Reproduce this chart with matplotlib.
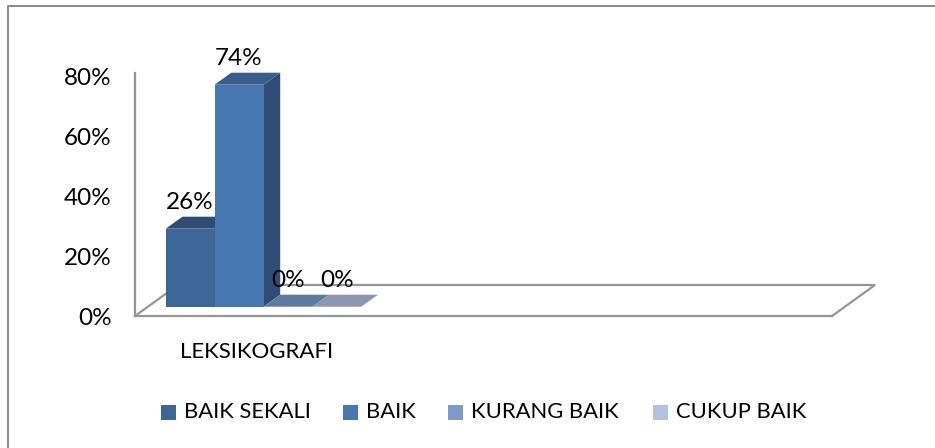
import matplotlib
matplotlib.use("Agg")
import matplotlib.pyplot as plt
from matplotlib.lines import Line2D
from matplotlib.patches import Rectangle

# Data
kategori = ["LEKSIKOGRAFI"]
seri = ["BAIK SEKALI", "BAIK", "KURANG BAIK", "CUKUP BAIK"]
nilai = [26, 74, 0, 0]
y_ticks = [0, 20, 40, 60, 80]

warna_depan = ["#3C6695", "#4777B0", "#7F9BC9", "#B3C2DE"]
warna_atas = ["#2E4C74", "#3A5E8C", "#5F7A9F", "#8A97AE"]
warna_sisi = ["#2E4C74", "#2E4C74", "#5F7A9F", "#8A97AE"]
abu = "#969696"

W, H = 935, 448
plt.rcParams["font.family"] = ["Lato", "DejaVu Sans"]
fig = plt.figure(figsize=(W / 100, H / 100), dpi=100)

# Bingkai luar: hanya sisi atas dan kiri yang terlihat
fig.add_artist(Line2D([7.5 / W, 7.5 / W, 1], [0, 1 - 6.5 / H, 1 - 6.5 / H],
                      transform=fig.transFigure, color="#8c8c8c", linewidth=1.5))

# 1 satuan x = lebar satu batang, 1 satuan y = 1 persen
px_x = 48.9
px_y = 3.0
kiri, kanan, bawah, atas = 135, 832, 316, 73
ax = fig.add_axes([kiri / W, 1 - bawah / H, (kanan - kiri) / W, (bawah - atas) / H])
ax.set_xlim(0, (kanan - kiri) / px_x)
ax.set_ylim(0, (bawah - atas) / px_y)
ax.patch.set_visible(False)

for s in ["top", "right"]:
    ax.spines[s].set_visible(False)
for s in ["left", "bottom"]:
    ax.spines[s].set_color(abu)
    ax.spines[s].set_linewidth(1.6)

ax.set_yticks(y_ticks)
ax.set_yticklabels([f"{v}%" for v in y_ticks], fontsize=17.5)
ax.tick_params(axis="y", length=0, pad=17)
ax.set_xticks([])

# Lantai 3D
lebar_x = (kanan - kiri) / px_x
lantai_dx = 43 / px_x
lantai_dy = 31 / px_y
ax.plot([0, lantai_dx, lebar_x + lantai_dx, lebar_x],
        [0, lantai_dy, lantai_dy, 0],
        color=abu, linewidth=1.6, clip_on=False, zorder=1, solid_joinstyle="miter")

# Batang 3D
x0 = 30.7 / px_x
y0 = 9.3 / px_y
dx = 16.7 / px_x
dy = 12 / px_y
for i in range(len(nilai)):
    xa = x0 + i
    xb = xa + 1
    top = y0 + nilai[i]
    zo = 3 + 0.1 * i
    if nilai[i] > 0:
        ax.fill([xb, xb + dx, xb + dx, xb], [y0, y0 + dy, top + dy, top],
                color=warna_sisi[i], linewidth=0, zorder=zo, clip_on=False)
        ax.bar(xa, nilai[i], width=1, bottom=y0, align="edge",
               color=warna_depan[i], linewidth=0, zorder=zo, clip_on=False)
    ax.fill([xa, xb, xb + dx, xa + dx], [top, top, top + dy, top + dy],
            color=warna_atas[i], linewidth=0, zorder=zo, clip_on=False)
    ax.text(xa + 0.5, top + dy + 1.3, f"{nilai[i]}%", ha="center", va="bottom",
            fontsize=17.5, color="black", zorder=6, clip_on=False)

# Label kategori
ax.text(x0 + 1.85, -12, kategori[0], ha="center", va="center", fontsize=16,
        color="black", clip_on=False)

# Legenda
posisi = [161, 343, 448, 653]
for i in range(len(seri)):
    fig.add_artist(Rectangle((posisi[i] / W, 1 - 420 / H), 15 / W, 15 / H,
                             transform=fig.transFigure, facecolor=warna_depan[i], linewidth=0))
    fig.text((posisi[i] + 23) / W, 1 - 412 / H, seri[i], ha="left", va="center",
             fontsize=15.8, color="black")

fig.savefig("out.png", dpi=100)
